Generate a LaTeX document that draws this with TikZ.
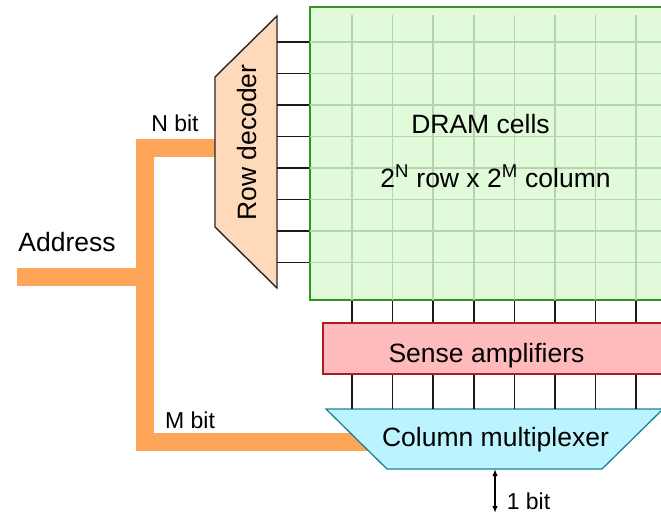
\documentclass[tikz,border=0pt]{standalone}
\usepackage{fontspec}
\setmainfont{Liberation Sans}
\usetikzlibrary{arrows.meta,positioning,calc}
\definecolor{cellfill}{RGB}{224,250,218}
\definecolor{cellline}{RGB}{50,150,30}
\definecolor{gridline}{RGB}{182,210,176}
\definecolor{decfill}{RGB}{255,218,186}
\definecolor{sensefill}{RGB}{255,187,187}
\definecolor{senseline}{RGB}{170,30,30}
\definecolor{muxfill}{RGB}{187,244,255}
\definecolor{muxline}{RGB}{30,130,150}
\definecolor{busorange}{RGB}{255,165,90}

\begin{document}
\begin{tikzpicture}[
  x=1pt, y=-1pt,
  font=\fontsize{26.5}{31}\selectfont,
  cellarr/.style={draw=cellline, fill=cellfill, line width=1.3pt, inner sep=0pt, minimum width=380pt, minimum height=293pt},
  gridln/.style={draw=gridline, line width=1.6pt},
  wire/.style={draw=black!90, line width=1.5pt},
  bus/.style={draw=busorange, line width=18pt},
  decoder/.style={draw=black!85, fill=decfill, line width=1.4pt, line join=miter},
  sensebox/.style={draw=senseline, fill=sensefill, line width=1.3pt, inner sep=0pt, minimum width=360pt, minimum height=51pt},
  muxshape/.style={draw=muxline, fill=muxfill, line width=1.3pt},
  lab/.style={inner sep=0pt},
  small/.style={lab, font=\fontsize{23}{27}\selectfont},
  io/.style={{Latex[length=7pt,width=5.5pt]}-{Latex[length=7pt,width=5.5pt]}, line width=1.4pt}
]
\clip (0,0) rectangle (661,515);
\def\yR{42}\def\dy{31.5}
\def\xC{352}\def\dx{40.6}

% address bus
\coordinate (nbit) at (216,148);
\coordinate (mbit) at (372,442);
\coordinate (addr) at (17,277);
\coordinate (junc) at (145,277);
\draw[bus] (nbit) -- (145,148) -- (145,442) -- (mbit);
\draw[bus] (addr) -- (junc);
\node[lab]   (addrlab) at (67,242)  {Address};
\node[small] (nlab)    at (175,123) {N bit};
\node[small] (mlab)    at (190,420) {M bit};

% cell array
\node[cellarr] (cells) at (500,153.5) {};
\foreach \i in {0,...,7}{
  \draw[gridln] (cells.west |- 0,{\yR+\i*\dy}) -- (cells.east |- 0,{\yR+\i*\dy});
  \draw[gridln] ({\xC+\i*\dx},15) -- ({\xC+\i*\dx},0 |- cells.south);
}
\draw[draw=cellline, line width=1.3pt] (cells.north west) rectangle (cells.south east);
\node[lab, anchor=base] (title) at (480.5,133) {DRAM cells};
\node[lab, anchor=base] (size)  at (495.5,187) {2\textsuperscript{N} row x 2\textsuperscript{M} column};

% row decoder
\coordinate (decTL) at (215,77);
\coordinate (decTR) at (277,16);
\coordinate (decBR) at (277,288);
\coordinate (decBL) at (215,227);
\draw[decoder] (decTL) -- (decTR) -- (decBR) -- (decBL) -- cycle;
\node[lab, rotate=90] (dec) at (247,142.5) {Row decoder};
\foreach \i in {0,...,7}{
  \draw[wire] (decTR |- 0,{\yR+\i*\dy}) -- (cells.west |- 0,{\yR+\i*\dy});
}

% sense amplifiers
\node[sensebox] (sense) at (503,348.5) {};
\node[lab, anchor=base] (sensetxt) at (486.5,362) {Sense amplifiers};

% column multiplexer
\coordinate (muxTL) at (326,409);
\coordinate (muxTR) at (663,409);
\coordinate (muxBR) at (602,469);
\coordinate (muxBL) at (387,469);
\draw[muxshape] (muxTL) -- (muxTR) -- (muxBR) -- (muxBL) -- cycle;
\node[lab, anchor=base] (mux) at (495.5,446) {Column multiplexer};

\foreach \i in {0,...,7}{
  \draw[wire] ({\xC+\i*\dx},0 |- cells.south) -- ({\xC+\i*\dx},0 |- sense.north);
  \draw[wire] ({\xC+\i*\dx},0 |- sense.south) -- ({\xC+\i*\dx},0 |- muxTL);
}

% data out
\coordinate (dout) at (495,513);
\draw[io] (495,469) -- (dout);
\node[small] (bitlab) at (528.5,501.5) {1 bit};
\end{tikzpicture}
\end{document}
